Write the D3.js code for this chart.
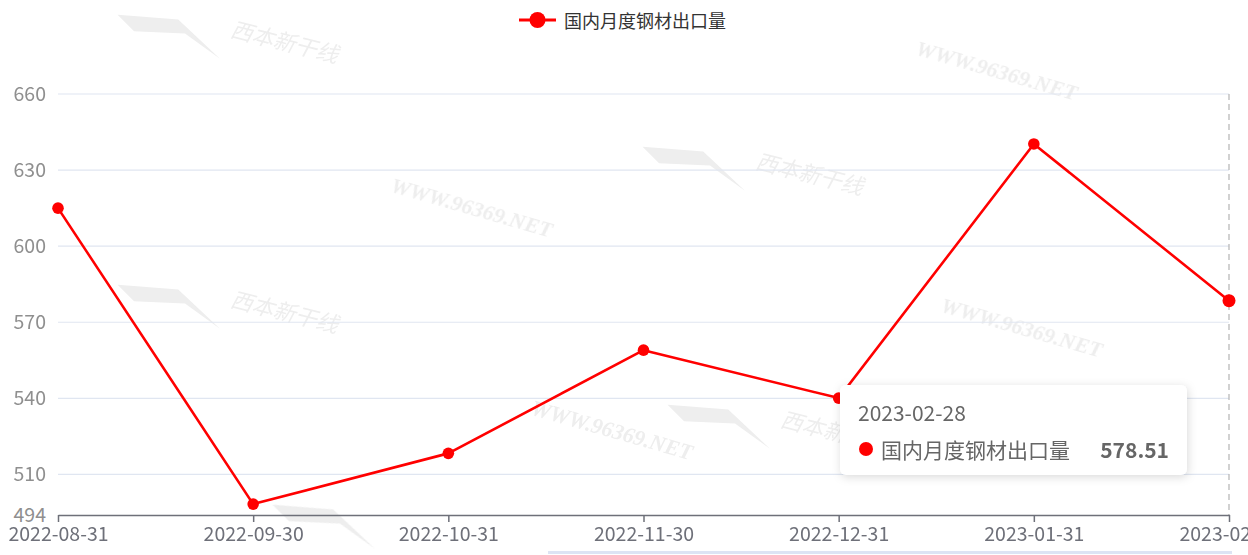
<!DOCTYPE html>
<html>
<head>
<meta charset="utf-8">
<script src="https://cdn.jsdelivr.net/npm/d3@7/dist/d3.min.js"></script>
<style>
  html, body { margin: 0; padding: 0; background: #fff; }
  svg { display: block; }
</style>
</head>
<body>
<svg id="chart" width="1248" height="555"></svg>
<script>
// ---- data ----
const categories = ["2022-08-31", "2022-09-30", "2022-10-31", "2022-11-30", "2022-12-31", "2023-01-31", "2023-02-28"];
const seriesName = "国内月度钢材出口量";
const seriesValues = [615.0, 498.3, 518.3, 559.0, 540.1, 640.3, 578.51];
const yTicks = [494, 510, 540, 570, 600, 630, 660];
const yDomain = [494, 660];
const tooltipIndex = 6;

// ---- layout ----
const plotLeft = 58, plotRight = 1229, plotTop = 94, plotBottom = 515;
const FONT = "'Microsoft YaHei', 'Noto Sans CJK SC', sans-serif";
const RED = "#ff0000";

const svg = d3.select("#chart");

// watermarks (faint)
const wm = svg.append("g").attr("fill", "#dcdcdc").attr("opacity", 0.5);
[[472, 207], [997, 70], [1022, 327], [612, 430]].forEach(([cx, cy]) => {
  wm.append("text").attr("transform", `translate(${cx},${cy}) rotate(16)`)
    .attr("text-anchor", "middle").attr("dominant-baseline", "central")
    .attr("font-family", "'Liberation Serif', serif").attr("font-style", "italic")
    .attr("font-weight", "bold").attr("font-size", 22).text("WWW.96369.NET");
});
[[285, 40], [810, 172], [285, 310], [835, 430]].forEach(([cx, cy]) => {
  wm.append("text").attr("transform", `translate(${cx},${cy}) rotate(14)`)
    .attr("text-anchor", "middle").attr("dominant-baseline", "central")
    .attr("font-family", FONT).attr("font-style", "italic")
    .attr("font-size", 22).text("西本新干线");
  wm.append("path").attr("transform", `translate(${cx - 165},${cy - 35}) rotate(14)`)
    .attr("d", "M0,10 L60,0 L110,28 L70,12 L20,22 Z");
});
wm.append("path").attr("transform", "translate(275,495) rotate(14)")
  .attr("d", "M0,10 L60,0 L110,28 L70,12 L20,22 Z");

const x = d3.scalePoint().domain(categories).range([plotLeft, plotRight]).padding(0);
const y = d3.scaleLinear().domain(yDomain).range([plotBottom, plotTop]);

// grid lines
svg.append("g").selectAll("line").data(yTicks.filter(t => t !== yDomain[0])).join("line")
  .attr("x1", plotLeft).attr("x2", plotRight)
  .attr("y1", d => y(d)).attr("y2", d => y(d))
  .attr("stroke", "#E0E6F1").attr("stroke-width", 1.2);

// y axis labels
const yAxis = d3.axisLeft(y).tickValues(yTicks).tickSize(0).tickPadding(12).tickFormat(d3.format("d"));
const gy = svg.append("g").attr("transform", `translate(${plotLeft},0)`).call(yAxis);
gy.select(".domain").remove();
gy.selectAll("text").attr("fill", "#8f8f8f").attr("font-size", 19.5).attr("font-family", FONT);

// axis pointer (dashed)
svg.append("line")
  .attr("x1", x(categories[tooltipIndex])).attr("x2", x(categories[tooltipIndex]))
  .attr("y1", plotTop).attr("y2", plotBottom)
  .attr("stroke", "#b4b4b4").attr("stroke-width", 1.2).attr("stroke-dasharray", "6,4");

// x axis
const xAxis = d3.axisBottom(x).tickSizeInner(7).tickSizeOuter(0).tickPadding(5);
const gx = svg.append("g").attr("transform", `translate(0,${plotBottom})`).call(xAxis);
gx.select(".domain").attr("stroke", "#6E7079").attr("stroke-width", 1.5);
gx.selectAll(".tick line").attr("stroke", "#6E7079").attr("stroke-width", 1.5);
gx.selectAll("text").attr("fill", "#6E7079").attr("font-size", 19.5).attr("font-family", FONT);

// line
const line = d3.line().x((d, i) => x(categories[i])).y(d => y(d));
svg.append("path").datum(seriesValues)
  .attr("d", line).attr("fill", "none").attr("stroke", RED)
  .attr("stroke-width", 2.6).attr("stroke-linejoin", "round");

svg.append("g").selectAll("circle").data(seriesValues).join("circle")
  .attr("cx", (d, i) => x(categories[i])).attr("cy", d => y(d))
  .attr("r", (d, i) => i === tooltipIndex ? 6.5 : 5.8).attr("fill", RED);

// legend
const lg = svg.append("g").attr("transform", "translate(519,20)");
lg.append("line").attr("x1", 0).attr("x2", 37).attr("y1", 0).attr("y2", 0)
  .attr("stroke", RED).attr("stroke-width", 3);
lg.append("circle").attr("cx", 18.5).attr("cy", 0).attr("r", 8).attr("fill", RED);
lg.append("text").attr("x", 45).attr("y", 0).attr("dominant-baseline", "central")
  .attr("font-size", 18).attr("font-family", FONT).attr("fill", "#333").text(seriesName);

// bottom strip
svg.append("rect").attr("x", 548).attr("y", 551).attr("width", 684).attr("height", 3)
  .attr("fill", "#dde4f4");

// tooltip
const defs = svg.append("defs");
const f = defs.append("filter").attr("id", "shadow").attr("x", "-20%").attr("y", "-30%").attr("width", "140%").attr("height", "160%");
f.append("feDropShadow").attr("dx", 1).attr("dy", 2).attr("stdDeviation", 5).attr("flood-color", "#000").attr("flood-opacity", 0.15);
const tt = svg.append("g").attr("transform", "translate(840,385)");
tt.append("rect").attr("width", 347).attr("height", 90).attr("rx", 6)
  .attr("fill", "#fff").attr("filter", "url(#shadow)");
tt.append("text").attr("x", 18).attr("y", 27).attr("dominant-baseline", "central")
  .attr("font-size", 21).attr("font-family", FONT).attr("fill", "#666")
  .text(categories[tooltipIndex]);
tt.append("circle").attr("cx", 26).attr("cy", 64).attr("r", 7).attr("fill", RED);
tt.append("text").attr("x", 41).attr("y", 64).attr("dominant-baseline", "central")
  .attr("font-size", 21).attr("font-family", FONT).attr("fill", "#666").text(seriesName);
tt.append("text").attr("x", 329).attr("y", 64).attr("dominant-baseline", "central")
  .attr("text-anchor", "end").attr("font-weight", "bold")
  .attr("font-size", 21).attr("font-family", FONT).attr("fill", "#666")
  .text(d3.format(".2f")(seriesValues[tooltipIndex]));
</script>
</body>
</html>
